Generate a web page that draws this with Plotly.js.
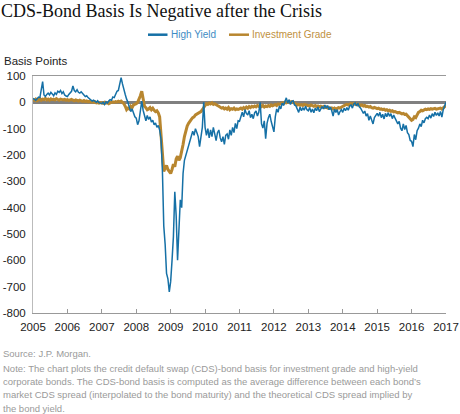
<!DOCTYPE html>
<html><head><meta charset="utf-8">
<script src="https://cdn.plot.ly/plotly-3.0.1.min.js"></script>
<style>html,body{margin:0;padding:0;background:#fff}#chart{width:460px;height:414px}</style>
</head><body><div id="chart"></div>
<script>
// Time axis: first observation and spacing in years (approx. bi-weekly readings)
const startYear = 2005;
const stepYears = 0.04;

const highYield = [
 15, 12, 8, 14, 20, 18, 45, 79, 28, 22, 30, 35, 28, 38, 32, 25, 36, 30, 42, 38, 45, 33, 40, 28, 24,
 22, 30, 38, 42, 62, 45, 40, 48, 38, 35, 40, 32, 28, 22, 25, 18, 14, 10, 5, 8, 2, 0, 6, -2, -3,
 -5, 0, -8, 2, -3, 5, 10, 8, 20, 18, 30, 42, 45, 65, 94, 70, 45, 30, 12, 0, -20, -35, -25, -45, -55,
 -60, -85, -70, -40, 5, -30, -55, -70, -50, -65, -55, -75, -68, -85, -78, -95, -88, -105, -140, -260, -470, -540, -650, -670, -720,
 -680, -600, -510, -340, -430, -600, -470, -370, -400, -270, -220, -200, -185, -170, -140, -120, -110, -125, -100, -115, -130, -168, -120, -95, 0,
 -95, -125, -100, -135, -105, -130, -95, -120, -145, -115, -105, -135, -150, -130, -160, -125, -120, -140, -105, -125, -95, -115, -80, -100, -70,
 -72, -50, -38, -55, -28, -42, -48, -32, -58, -45, -62, -40, -33, -52, -38, 0, -82, -98, -70, -138, -80, -58, -45, -72, -95,
 -112, -55, -25, -38, -14, -25, -3, -12, 8, 17, -2, 10, -8, 4, 6, -10, -14, -28, -38, -18, -32, -20, -30, -15, -28,
 -32, -20, -38, -25, -40, -22, -32, -18, -35, -22, -16, -25, -10, -22, -12, -28, -18, -32, -52, -26, -38, -28, -48, -35, -28,
 -38, -22, -32, -20, -30, -15, -10, -22, -6, -2, -14, -4, -17, -22, -32, -42, -33, -52, -43, -68, -52, -72, -82, -58, -52,
 -42, -53, -38, -58, -45, -63, -42, -55, -40, -53, -43, -62, -48, -60, -72, -82, -72, -98, -108, -82, -103, -88, -115, -122, -145,
 -148, -168, -122, -142, -108, -98, -82, -92, -68, -78, -62, -57, -62, -48, -60, -43, -54, -38, -50, -40, -52, -35, -56, -28, -12,
 0
];

const investmentGrade = [
 10, 8, 12, 6, 10, 14, 8, 12, 10, 15, 9, 12, 8, 13, 10, 12, 9, 14, 11, 8, 12, 10, 9, 11, 8,
 10, 7, 9, 11, 8, 6, 9, 7, 5, 8, 6, 4, 7, 3, 5, 2, 4, 1, 3, 0, 2, -2, 0, -3, -1,
 -2, -4, 0, -3, -1, -5, -2, 0, 2, 0, 3, 1, 4, 2, 5, 0, -5, -15, -28, -22, -25, -15, -20, -10, -8,
 -5, 0, 10, 25, 42, 5, -15, -20, -28, -25, -20, -28, -22, -30, -35, -32, -40, -55, -120, -210, -262, -250, -240, -255, -265,
 -270, -255, -235, -245, -215, -205, -220, -210, -190, -160, -130, -105, -90, -80, -70, -65, -58, -55, -48, -45, -42, -38, -35, -28, -22,
 -12, -5, -8, -3, -6, -2, -8, -5, -10, -12, -15, -18, -22, -20, -25, -22, -26, -20, -28, -24, -26, -22, -28, -25, -27,
 -25, -22, -26, -20, -24, -18, -22, -16, -20, -15, -18, -14, -17, -12, -15, -10, -16, -12, -18, -14, -16, -12, -15, -10, -13,
 -10, -8, -12, -6, -8, -4, -2, -5, 0, -2, 2, 4, 1, 3, 0, -4, -6, -10, -8, -11, -9, -12, -8, -10, -12,
 -12, -14, -10, -13, -15, -12, -16, -14, -17, -15, -18, -16, -20, -18, -22, -20, -23, -21, -25, -22, -26, -23, -20, -22, -18,
 -15, -12, -10, -8, -10, -6, -4, -7, -5, -8, -6, -10, -8, -12, -10, -14, -12, -16, -15, -18, -16, -20, -22, -19, -22,
 -24, -22, -26, -25, -28, -26, -30, -28, -32, -30, -34, -32, -36, -35, -38, -40, -38, -42, -44, -42, -46, -45, -50, -55, -62,
 -68, -65, -55, -58, -45, -38, -35, -30, -32, -28, -26, -28, -25, -27, -24, -26, -25, -23, -26, -24, -25, -22, -26, -20, -18,
 -12
];

const seriesNames = ['High Yield', 'Investment Grade'];
const seriesColors = ['#1570a6', '#b8862f'];
const legendTextColors = ['#3d8cc4', '#c0913f'];
const yearTicks = [2005, 2006, 2007, 2008, 2009, 2010, 2011, 2012, 2013, 2014, 2015, 2016, 2017];
const valueTicks = [100, 0, -100, -200, -300, -400, -500, -600, -700, -800];

const titleText = 'CDS-Bond Basis Is Negative after the Crisis';
const yTitleText = 'Basis Points';
const sourceText = 'Source: J.P. Morgan.';
const noteLines = [
 'Note: The chart plots the credit default swap (CDS)-bond basis for investment grade and high-yield',
 'corporate bonds. The CDS-bond basis is computed as the average difference between each bond\u2019s',
 'market CDS spread (interpolated to the bond maturity) and the theoretical CDS spread implied by',
 'the bond yield.'
];

// plot-area geometry in pixels (for placing page text)
const W = 460, H = 414, L = 33, R = 14, T = 76, B = 101;
const pw = W - L - R, ph = H - T - B;
const px = v => (v - L) / pw;
const py = v => (H - B - v) / ph;

const traces = [
 {x0: startYear, dx: stepYears, y: investmentGrade, type: 'scatter', mode: 'lines', name: seriesNames[1],
  line: {color: seriesColors[1], width: 3}, showlegend: false, hoverinfo: 'skip'},
 {x0: startYear, dx: stepYears, y: highYield, type: 'scatter', mode: 'lines', name: seriesNames[0],
  line: {color: seriesColors[0], width: 1.5}, showlegend: false, hoverinfo: 'skip'}
];

const sans = 'Liberation Sans, Arial, sans-serif';
const annotations = [
 {text: yTitleText, xref: 'paper', yref: 'paper', x: px(2), y: py(61.5), xanchor: 'left', yanchor: 'middle',
  showarrow: false, font: {family: sans, size: 11.5, color: '#222'}},
 {text: seriesNames[0], xref: 'paper', yref: 'paper', x: px(169), y: py(34.7), xanchor: 'left', yanchor: 'middle',
  showarrow: false, font: {family: sans, size: 10, color: legendTextColors[0]}},
 {text: seriesNames[1], xref: 'paper', yref: 'paper', x: px(250), y: py(34.7), xanchor: 'left', yanchor: 'middle',
  showarrow: false, font: {family: sans, size: 10, color: legendTextColors[1]}},
 {text: sourceText, xref: 'paper', yref: 'paper', x: px(1), y: py(353), xanchor: 'left', yanchor: 'middle',
  showarrow: false, font: {family: sans, size: 9.5, color: '#9a9a9a'}}
];
const noteY = [368, 381.3, 394.7, 408];
noteLines.forEach((t, i) => annotations.push(
 {text: t, xref: 'paper', yref: 'paper', x: px(1), y: py(noteY[i]), xanchor: 'left', yanchor: 'middle',
  showarrow: false, font: {family: sans, size: 9.5, color: '#9a9a9a'}}));

const shapes = [
 {type: 'line', xref: 'paper', yref: 'paper', x0: px(148), x1: px(167.5), y0: py(34.7), y1: py(34.7),
  line: {color: seriesColors[0], width: 2.5}},
 {type: 'line', xref: 'paper', yref: 'paper', x0: px(229), x1: px(249), y0: py(34.7), y1: py(34.7),
  line: {color: seriesColors[1], width: 2.5}}
];

const layout = {
 width: W, height: H,
 margin: {l: L, r: R, t: T, b: B, pad: 0},
 paper_bgcolor: '#fff', plot_bgcolor: '#fff',
 showlegend: false,
 title: {text: titleText, xref: 'container', yref: 'container', x: 1 / W, xanchor: 'left',
  y: 1 - 11 / H, yanchor: 'middle', font: {family: 'Liberation Serif, Times New Roman, serif', size: 18, color: '#111'}},
 xaxis: {range: [2005, 2017], tickmode: 'array', tickvals: yearTicks, ticktext: yearTicks.map(String),
  ticks: 'inside', ticklen: 4, tickcolor: '#999', tickwidth: 1, ticklabelstandoff: 3,
  showline: true, linecolor: '#999', linewidth: 1, mirror: true, showgrid: false, zeroline: false,
  tickfont: {family: sans, size: 11.5, color: '#222'}},
 yaxis: {range: [-800, 100], tickmode: 'array', tickvals: valueTicks, ticktext: valueTicks.map(String),
  ticks: '', showline: true, linecolor: '#bbb', linewidth: 1, showgrid: false,
  zeroline: true, zerolinecolor: '#808080', zerolinewidth: 2.5, ticklabelstandoff: 4,
  tickfont: {family: sans, size: 11.5, color: '#222'}},
 yaxis2: {range: [-800, 100], overlaying: 'y', side: 'right', tickmode: 'array', tickvals: valueTicks,
  showticklabels: false, ticks: 'inside', ticklen: 4, tickcolor: '#888',
  showline: true, linecolor: '#888', linewidth: 1, showgrid: false, zeroline: false},
 annotations: annotations,
 shapes: shapes
};

Plotly.newPlot('chart', traces, layout, {staticPlot: true, displayModeBar: false});
</script>
</body></html>
